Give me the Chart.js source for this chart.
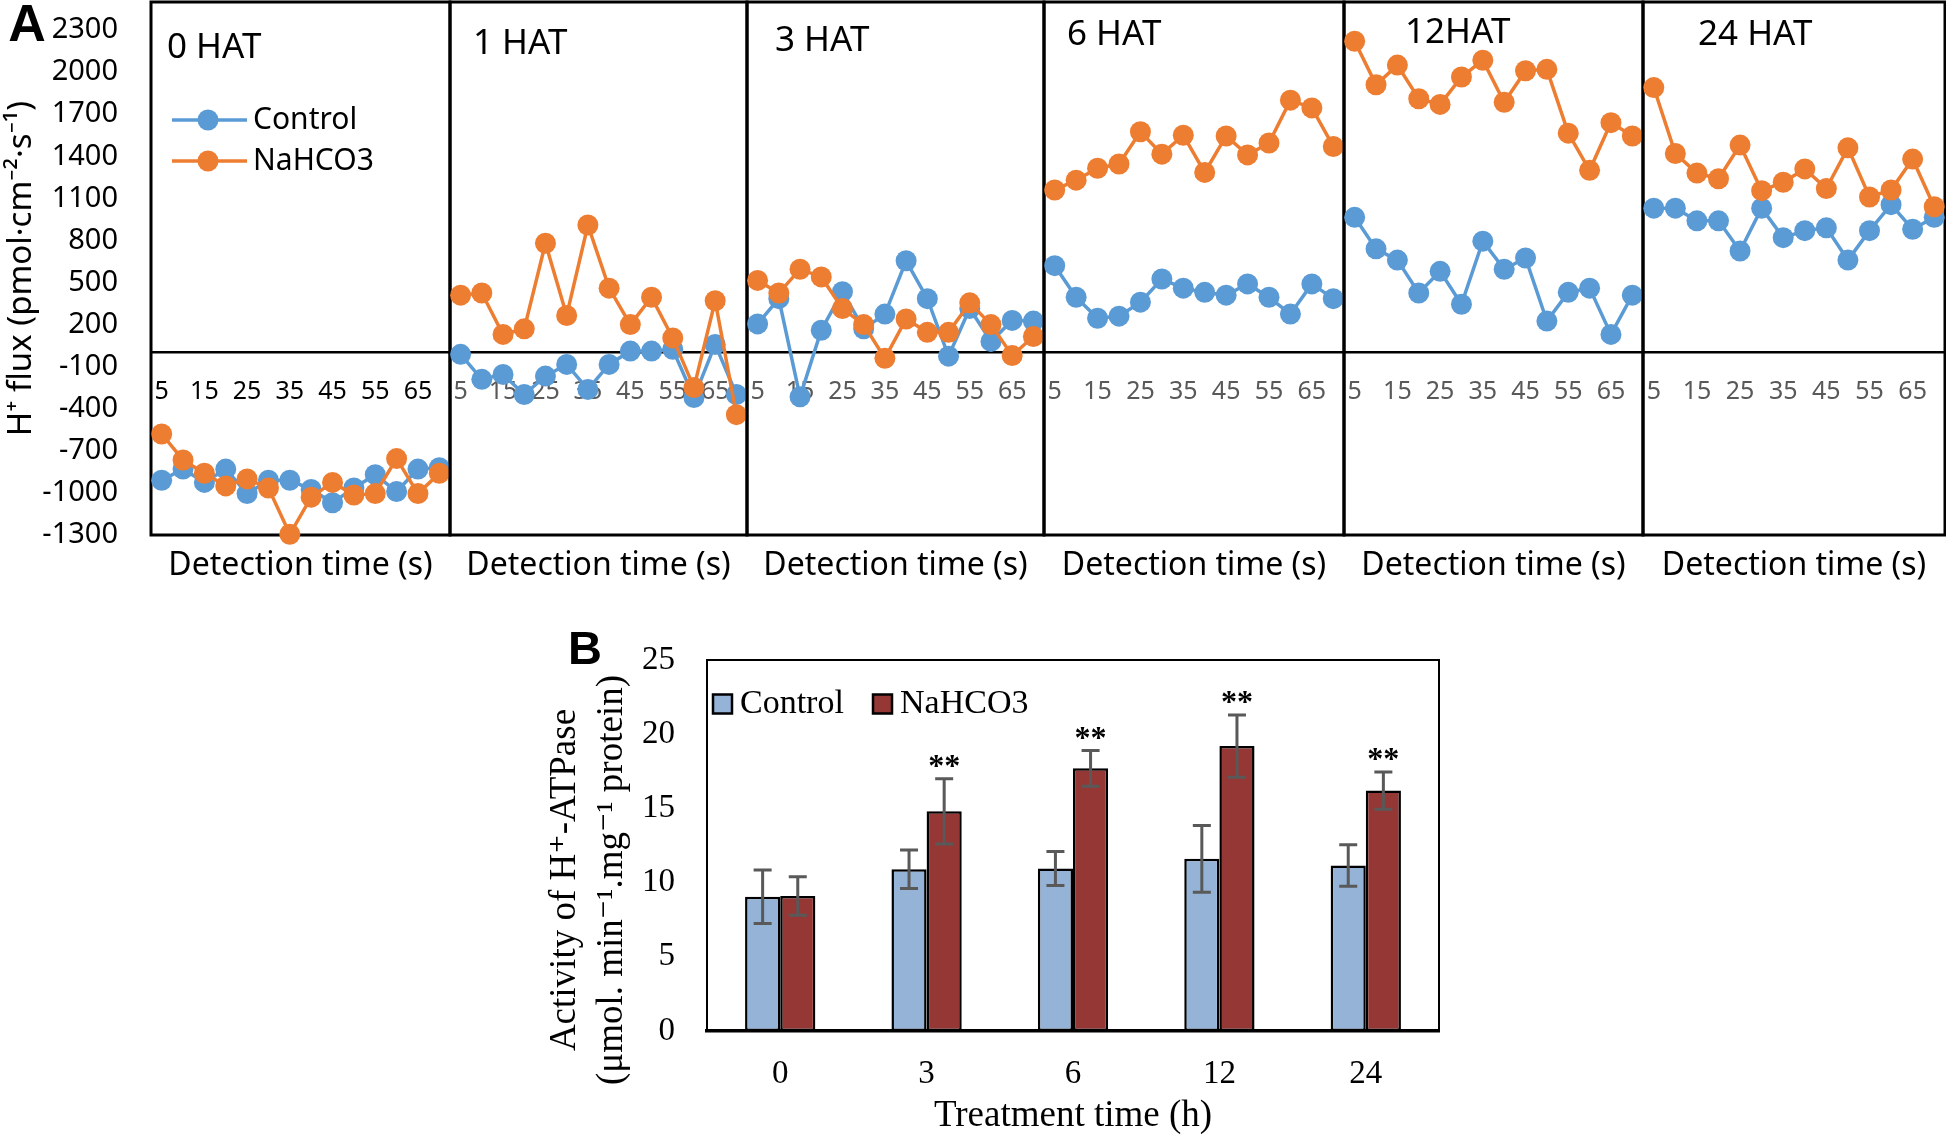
<!DOCTYPE html>
<html>
<head>
<meta charset="utf-8">
<script src="https://cdn.jsdelivr.net/npm/chart.js@4.4.1/dist/chart.umd.min.js"></script>
<style>
  html, body { margin: 0; padding: 0; background: #fff; }
  #figure { position: relative; width: 1946px; height: 1136px; overflow: hidden; background: #fff; }
  #figure canvas { position: absolute; }
</style>
</head>
<body>
<div id="figure"></div>
<script>
// ---- Panel A: H+ flux, one reading every 5 s ----
const detectionTimes = [5, 10, 15, 20, 25, 30, 35, 40, 45, 50, 55, 60, 65, 70];
const fluxTicks = [-1300, -1000, -700, -400, -100, 200, 500, 800, 1100, 1400, 1700, 2000, 2300];
const hatLabels = ['0 HAT', '1 HAT', '3 HAT', '6 HAT', '12HAT', '24 HAT'];

const control0h = [-910, -830, -925, -830, -1005, -910, -910, -975, -1070, -965, -870, -990, -830, -820];
const nahco30h = [-580, -765, -860, -950, -900, -965, -1295, -1030, -925, -1015, -1005, -755, -1005, -860];
const control1h = [-12, -190, -155, -298, -167, -84, -262, -84, 11, 11, 24, -320, 59, -298];
const nahco31h = [410, 425, 130, 170, 780, 265, 910, 460, 200, 395, 105, -249, 370, -442];
const control3h = [205, 385, -315, 160, 435, 170, 275, 655, 385, -25, 315, 80, 230, 225];
const nahco33h = [515, 425, 595, 540, 315, 200, -40, 240, 145, 145, 355, 200, -20, 115];
const control6h = [620, 395, 245, 260, 360, 525, 460, 430, 410, 490, 395, 275, 490, 385];
const nahco36h = [1160, 1230, 1315, 1345, 1575, 1415, 1550, 1285, 1545, 1410, 1495, 1800, 1745, 1470];
const control12h = [965, 740, 660, 425, 580, 345, 795, 595, 675, 225, 430, 460, 130, 410];
const nahco312h = [2220, 1910, 2050, 1810, 1770, 1965, 2085, 1785, 2010, 2020, 1565, 1300, 1640, 1545];
const control24h = [1030, 1030, 940, 940, 725, 1030, 820, 870, 890, 660, 870, 1055, 880, 965];
const nahco324h = [1890, 1420, 1280, 1240, 1480, 1155, 1215, 1310, 1170, 1460, 1110, 1160, 1380, 1040];

const controlFlux = [control0h, control1h, control3h, control6h, control12h, control24h];
const nahco3Flux = [nahco30h, nahco31h, nahco33h, nahco36h, nahco312h, nahco324h];

// ---- Panel B: H+-ATPase activity ----
const treatmentTimes = ['0', '3', '6', '12', '24'];
const atpaseControl = [9.05, 10.9, 10.95, 11.6, 11.15];
const atpaseNahco3 = [9.1, 14.8, 17.7, 19.2, 16.2];
const errControl = [1.8, 1.3, 1.15, 2.25, 1.4];
const errNahco3 = [1.3, 2.2, 1.2, 2.1, 1.25];
const significance = ['', '**', '**', '**', '**'];

const BLUE = '#5B9BD5';
const ORANGE = '#ED7D31';
const SANS = '"Noto Sans", "Open Sans", sans-serif';
const SERIF = '"Liberation Serif", "DejaVu Serif", serif';
const BOLD = 'bold {s}px "Liberation Sans", Arial, sans-serif';

const figure = document.getElementById('figure');

function addCanvas(left, top, width, height) {
    const c = document.createElement('canvas');
    c.width = width;
    c.height = height;
    c.style.left = left + 'px';
    c.style.top = top + 'px';
    c.style.width = width + 'px';
    c.style.height = height + 'px';
    figure.appendChild(c);
    return c;
}

// the frame sizes are fixed by hand, so drop the label overhang chart.js adds
function noOverhang(scale) {
    scale.paddingTop = 0;
    scale.paddingBottom = 0;
    scale.paddingLeft = 0;
    scale.paddingRight = 0;
}

function drawLegend(chart, cfg) {
    const ctx = chart.ctx;
    chart.data.datasets.forEach((ds, i) => {
        const x = cfg.x + i * (cfg.dx || 0);
        const y = cfg.y + i * (cfg.dy || 0);
        let textX;
        ctx.save();
        if (cfg.type === 'line') {
            ctx.strokeStyle = ds.borderColor;
            ctx.lineWidth = 3.5;
            ctx.beginPath();
            ctx.moveTo(x, y);
            ctx.lineTo(x + 75, y);
            ctx.stroke();
            ctx.fillStyle = ds.backgroundColor;
            ctx.beginPath();
            ctx.arc(x + 36, y, 10.5, 0, Math.PI * 2);
            ctx.fill();
            textX = x + 81;
        } else {
            ctx.fillStyle = ds.backgroundColor;
            ctx.fillRect(x, y - 9.5, 19, 19);
            ctx.strokeStyle = '#000';
            ctx.lineWidth = 2.5;
            ctx.strokeRect(x, y - 9.5, 19, 19);
            textX = x + 27;
        }
        ctx.fillStyle = '#000';
        ctx.font = cfg.font;
        ctx.textAlign = 'left';
        ctx.textBaseline = 'middle';
        ctx.fillText(ds.label, textX, y);
        ctx.restore();
    });
}

// frame, free text, legends, error bars and significance marks
const decor = {
    id: 'decor',
    beforeDatasetsDraw(chart, args, opts) {
        if (!opts.frame) return;
        const {ctx, chartArea: a} = chart;
        ctx.save();
        ctx.strokeStyle = '#000';
        ctx.lineWidth = opts.frame;
        ctx.strokeRect(a.left, a.top, a.right - a.left, a.bottom - a.top);
        ctx.restore();
    },
    afterDatasetsDraw(chart, args, opts) {
        if (!opts.errors) return;
        const ctx = chart.ctx;
        const yScale = chart.scales.y;
        ctx.save();
        ctx.strokeStyle = '#595959';
        ctx.lineWidth = 3;
        opts.errors.forEach((errs, i) => {
            const values = chart.data.datasets[i].data;
            chart.getDatasetMeta(i).data.forEach((bar, j) => {
                const top = yScale.getPixelForValue(values[j] + errs[j]);
                const bottom = yScale.getPixelForValue(values[j] - errs[j]);
                ctx.beginPath();
                ctx.moveTo(bar.x, top);
                ctx.lineTo(bar.x, bottom);
                ctx.moveTo(bar.x - 9, top);
                ctx.lineTo(bar.x + 9, top);
                ctx.moveTo(bar.x - 9, bottom);
                ctx.lineTo(bar.x + 9, bottom);
                ctx.stroke();
            });
        });
        if (opts.stars) {
            const s = opts.stars;
            const values = chart.data.datasets[s.dataset].data;
            const errs = opts.errors[s.dataset];
            ctx.fillStyle = '#000';
            ctx.font = s.font;
            ctx.textAlign = 'center';
            ctx.textBaseline = 'alphabetic';
            chart.getDatasetMeta(s.dataset).data.forEach((bar, j) => {
                if (!s.labels[j]) return;
                const top = yScale.getPixelForValue(values[j] + errs[j]);
                ctx.fillText(s.labels[j], bar.x, top + s.shift);
            });
        }
        ctx.restore();
    },
    afterDraw(chart, args, opts) {
        const ctx = chart.ctx;
        (opts.texts || []).forEach(t => {
            ctx.save();
            ctx.translate(t.x, t.y);
            if (t.rotate) ctx.rotate(t.rotate);
            ctx.fillStyle = '#000';
            ctx.font = t.font;
            ctx.textAlign = t.align || 'left';
            ctx.textBaseline = 'middle';
            ctx.fillText(t.text, 0, 0);
            ctx.restore();
        });
        if (opts.legend) drawLegend(chart, opts.legend);
    }
};

// ---- Panel A charts ----
const panelEdges = [151, 450, 747, 1044, 1344, 1643, 1945];
const titleSpots = [[16, 48], [23, 44], [28, 41], [23, 35], [61, 33], [55, 35]];
const PAD = 20;
const HEIGHT_A = 600;

hatLabels.forEach((hat, i) => {
    const first = i === 0;
    const boxL = panelEdges[i];
    const boxR = panelEdges[i + 1];
    const left = first ? 0 : boxL - PAD;
    const right = Math.min(boxR + PAD, 1946);
    const canvas = addCanvas(left, 0, right - left, HEIGHT_A);

    const texts = [{text: hat, x: boxL - left + titleSpots[i][0], y: titleSpots[i][1], font: '35px ' + SANS}];
    if (first) texts.push({text: 'A', x: 27, y: 27, font: BOLD.replace('{s}', 52), align: 'center'});

    new Chart(canvas, {
        type: 'line',
        data: {
            labels: detectionTimes,
            datasets: [
                {label: 'Control', data: controlFlux[i], borderColor: BLUE, backgroundColor: BLUE,
                    order: 1, clip: false, xAxisID: 'x', yAxisID: 'y'},
                {label: 'NaHCO3', data: nahco3Flux[i], borderColor: ORANGE, backgroundColor: ORANGE,
                    order: 0, clip: false, xAxisID: 'x', yAxisID: 'y'}
            ]
        },
        options: {
            responsive: false,
            animation: false,
            events: [],
            layout: {
                autoPadding: false,
                padding: {top: 2, bottom: 0, left: first ? 0 : boxL - left, right: right - boxR}
            },
            elements: {
                line: {borderWidth: 3.5, tension: 0},
                point: {radius: 10.5, borderWidth: 0, hoverRadius: 10.5}
            },
            scales: {
                x: {
                    type: 'category',
                    axis: 'x',
                    position: {y: 0},
                    offset: true,
                    grid: {display: false, drawTicks: false},
                    border: {display: true, color: '#000', width: 2.5},
                    afterFit: noOverhang,
                    ticks: {
                        autoSkip: false,
                        maxRotation: 0,
                        minRotation: 0,
                        padding: 24,
                        color: first ? '#000' : '#595959',
                        font: {family: SANS, size: 25},
                        callback(value, index) {
                            return index % 2 === 0 ? this.getLabelForValue(value) : '';
                        }
                    }
                },
                xt: {
                    type: 'category',
                    axis: 'x',
                    position: 'bottom',
                    grid: {display: false, drawTicks: false},
                    border: {display: false},
                    ticks: {display: false},
                    afterFit: s => { noOverhang(s); s.height = HEIGHT_A - 535; },
                    title: {
                        display: true,
                        text: 'Detection time (s)',
                        color: '#000',
                        font: {family: SANS, size: 32},
                        padding: {top: 0, bottom: 15}
                    }
                },
                y: {
                    display: first,
                    min: -1300,
                    max: 2500,
                    afterBuildTicks: s => { s.ticks = fluxTicks.map(v => ({value: v})); },
                    afterFit: s => {
                        noOverhang(s);
                        if (first) s.width = boxL;
                    },
                    grid: {display: false, drawTicks: false},
                    border: {display: false},
                    ticks: {
                        color: '#000',
                        padding: 33,
                        font: {family: SANS, size: 29},
                        callback: v => String(v)
                    },
                    title: {
                        display: true,
                        text: 'H⁺ flux (pmol·cm⁻²·s⁻¹)',
                        color: '#000',
                        font: {family: SANS, size: 33},
                        padding: {top: 2, bottom: 0}
                    }
                }
            },
            plugins: {
                legend: {display: false},
                tooltip: {enabled: false},
                decor: {
                    frame: 3,
                    texts: texts,
                    legend: first ? {type: 'line', x: 172, y: 120, dy: 41, font: '30px ' + SANS} : null
                }
            }
        },
        plugins: [decor]
    });
});

// ---- Panel B chart ----
const canvasB = addCanvas(530, 620, 930, 516);
new Chart(canvasB, {
    type: 'bar',
    data: {
        labels: treatmentTimes,
        datasets: [
            {label: 'Control', data: atpaseControl, backgroundColor: '#95B3D7'},
            {label: 'NaHCO3', data: atpaseNahco3, backgroundColor: '#953735'}
        ]
    },
    options: {
        responsive: false,
        animation: false,
        events: [],
        layout: {autoPadding: false, padding: {top: 40, right: 21, left: 0, bottom: 0}},
        datasets: {
            bar: {
                borderColor: '#000',
                borderWidth: 2.5,
                borderSkipped: false,
                categoryPercentage: 0.48,
                barPercentage: 1
            }
        },
        scales: {
            x: {
                grid: {display: false, drawTicks: false},
                border: {display: true, color: '#000', width: 3.5},
                ticks: {color: '#000', padding: 24, font: {family: SERIF, size: 33}},
                afterFit: s => { noOverhang(s); s.height = 105; },
                title: {
                    display: true,
                    text: 'Treatment time (h)',
                    color: '#000',
                    font: {family: SERIF, size: 37, lineHeight: 1},
                    padding: {top: 0, bottom: 1}
                }
            },
            y: {
                min: 0,
                max: 25,
                grid: {display: false, drawTicks: false},
                border: {display: false},
                afterFit: s => { noOverhang(s); s.width = 177; },
                ticks: {stepSize: 5, color: '#000', padding: 32, font: {family: SERIF, size: 33}}
            }
        },
        plugins: {
            legend: {display: false},
            tooltip: {enabled: false},
            decor: {
                frame: 2,
                errors: [errControl, errNahco3],
                stars: {dataset: 1, labels: significance, font: 'bold 32px ' + SERIF, shift: -3},
                legend: {type: 'box', x: 183, y: 84, dx: 160, font: '34px ' + SERIF},
                texts: [
                    {text: 'B', x: 55, y: 31, font: BOLD.replace('{s}', 47), align: 'center'},
                    {text: 'Activity of H⁺-ATPase', x: 35, y: 260, rotate: -Math.PI / 2,
                        font: '37px ' + SERIF, align: 'center'},
                    {text: '(μmol. min⁻¹.mg⁻¹ protein)', x: 82, y: 260, rotate: -Math.PI / 2,
                        font: '37px ' + SERIF, align: 'center'}
                ]
            }
        }
    },
    plugins: [decor]
});
</script>
</body>
</html>
